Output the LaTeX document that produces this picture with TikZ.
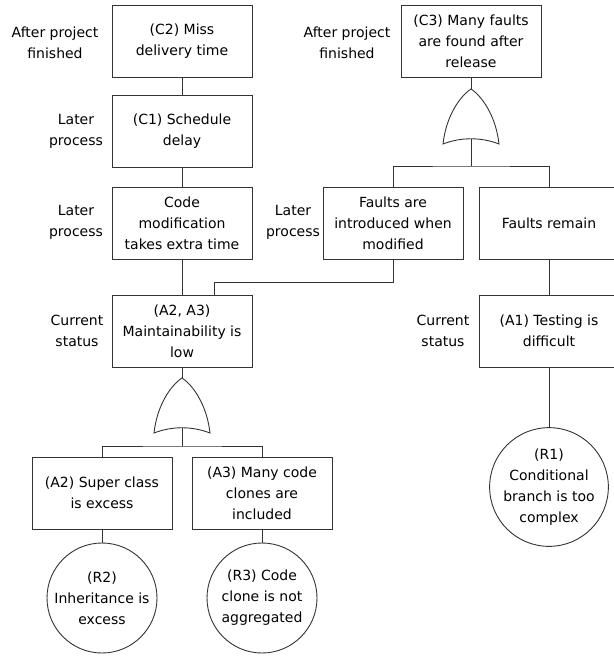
\documentclass[tikz,border=0pt]{standalone}
\usepackage{fontspec}
\setmainfont{DejaVu Sans}
\newcommand\evfont{\fontsize{14}{21}\selectfont}
\tikzset{
  event/.style={draw=black!80,line width=0.9pt,rectangle,minimum width=140pt,minimum height=72pt,align=center,inner sep=2pt,font=\evfont},
  cause/.style={draw=black!80,line width=0.9pt,circle,minimum size=110pt,align=center,inner sep=0pt,font=\evfont},
  phase/.style={align=center,inner sep=0pt,font=\evfont},
  link/.style={draw=black!80,line width=0.9pt},
  orgate/.pic={\draw[link] (-28,55) .. controls (-25,28) and (-12,8) .. (0,0) .. controls (12,8) and (25,28) .. (28,55) .. controls (10,48) and (-10,48) .. cycle;}
}
\begin{document}
\begin{tikzpicture}[x=1pt,y=-1pt]
	\useasboundingbox (0,0) rectangle (614,657);
	\clip (0,0) rectangle (614,657);
	% left tree
	\node[event] (c2) at (182,41){(C2) Miss\\delivery time};
	\node[event] (c1) at (182,131.5){(C1) Schedule\\delay};
	\node[event] (cm) at (182,223){Code\\modification\\takes extra time};
	\node[event] (a23) at (182,331){(A2, A3)\\Maintainability is\\low};
	\node[event] (a2) at (102,493){(A2) Super class\\is excess};
	\node[event] (a3) at (262,493){(A3) Many code\\clones are\\included};
	\node[cause] (r2) at (102,598){(R2)\\Inheritance is\\excess};
	\node[cause] (r3) at (262,598){(R3) Code\\clone is not\\aggregated};
	% right tree
	\node[event] (c3) at (471,41){(C3) Many faults\\are found after\\release};
	\node[event] (f1) at (393,223){Faults are\\introduced when\\modified};
	\node[event] (f2) at (549,223){Faults remain};
	\node[event] (a1) at (549,331){(A1) Testing is\\difficult};
	\node[cause] (r1) at (549,487){(R1)\\Conditional\\branch is too\\complex};
	% phases
	\node[phase] (p1) at (55,43){After project\\finished};
	\node[phase] (p2) at (76,131){Later\\process};
	\node[phase] (p3) at (76,222){Later\\process};
	\node[phase] (p4) at (77,331){Current\\status};
	\node[phase] (p5) at (347,43){After project\\finished};
	\node[phase] (p6) at (293,222){Later\\process};
	\node[phase] (p7) at (443,331){Current\\status};
	% or gates
	\coordinate (g1in) at (471,89);
	\coordinate (g1out) at (471,139);
	\coordinate (g2in) at (182,378);
	\coordinate (g2out) at (182,428);
	\pic at (g1in) {orgate};
	\pic at (g2in) {orgate};
	% connectors
	\draw[link] (c2) -- (c1);
	\draw[link] (c1) -- (cm);
	\draw[link] (cm) -- (a23);
	\draw[link] (f1.south) -- ++(0,23) -| ([xshift=32pt]a23.north);
	\draw[link] (a23) -- (g2in);
	\draw[link] (g2out) -- ++(0,18) coordinate (j2);
	\draw[link] (a2.north) |- (j2) -| (a3.north);
	\draw[link] (a2) -- (r2);
	\draw[link] (a3) -- (r3);
	\draw[link] (c3) -- (g1in);
	\draw[link] (g1out) -- ++(0,27) coordinate (j1);
	\draw[link] (f1.north) |- (j1) -| (f2.north);
	\draw[link] (f2) -- (a1);
	\draw[link] (a1) -- (r1);
\end{tikzpicture}
\end{document}
